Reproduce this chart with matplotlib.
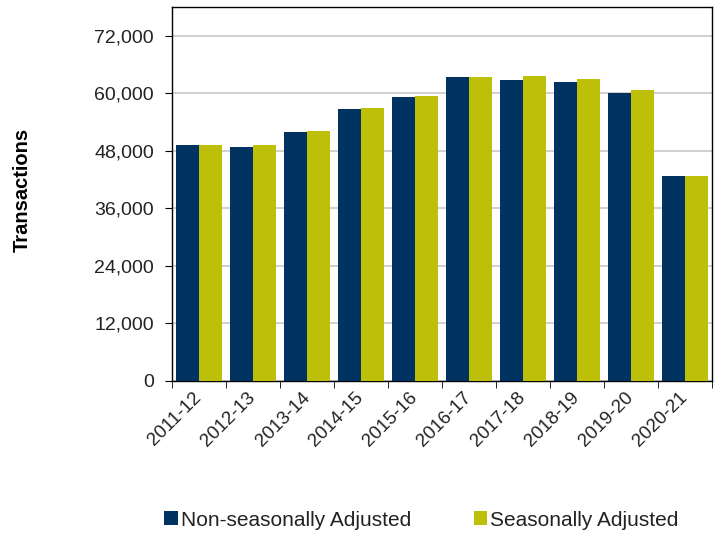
import matplotlib.pyplot as plt
import numpy as np
from matplotlib.ticker import FuncFormatter, MultipleLocator

plt.rcParams['font.family'] = ['Liberation Sans', 'DejaVu Sans']

# Data:
years = ["2011-12", "2012-13", "2013-14", "2014-15", "2015-16",
         "2016-17", "2017-18", "2018-19", "2019-20", "2020-21"]
non_seasonal = [49200, 48700, 51900, 56700, 59300, 63300, 62800, 62300, 60100, 42700]
seasonal = [49200, 49200, 52100, 56900, 59500, 63300, 63500, 63000, 60600, 42700]

navy = "#003262"
olive = "#bdbf09"

fig = plt.figure(figsize=(7.17, 5.35), dpi=100)
ax = fig.add_axes([0.240, 0.288, 0.753, 0.699])

x = np.arange(len(years))
width = 0.43
ax.bar(x - width / 2, non_seasonal, width, color=navy, label="Non-seasonally Adjusted", zorder=3)
ax.bar(x + width / 2, seasonal, width, color=olive, label="Seasonally Adjusted", zorder=3)

# Axes:
ax.set_xlim(-0.5, len(years) - 0.5)
ax.set_ylim(0, 78000)
ax.yaxis.set_major_locator(MultipleLocator(12000))
ax.yaxis.set_major_formatter(FuncFormatter(lambda v, _: f"{int(v):,}"))
ax.grid(axis="y", color="#c8c8c8", linewidth=1.2, zorder=0)
ax.tick_params(axis="y", labelsize=14, length=5, color="black", pad=8, labelcolor="#222222")

ax.set_xticks(x)
ax.set_xticklabels(years, rotation=45, ha="right", va="center", rotation_mode="anchor",
                   fontsize=13.5, color="#222222")
ax.set_xticks(np.arange(-0.5, len(years)), minor=True)
ax.tick_params(axis="x", which="major", length=0, pad=10)
ax.tick_params(axis="x", which="minor", length=5, color="black")

for spine in ax.spines.values():
    spine.set_linewidth(1.0)
    spine.set_color("black")

fig.text(0.031, 0.645, "Transactions", rotation=90, fontsize=14.5, fontweight="bold",
         ha="center", va="center")

# Legend:
fig.legend(loc="center", bbox_to_anchor=(0.588, 0.028), ncol=2, frameon=False,
           fontsize=15, handlelength=0.65, handleheight=0.65, handletextpad=0.15,
           columnspacing=3.0, labelcolor="#222222")

fig.savefig("out.png", dpi=100)
